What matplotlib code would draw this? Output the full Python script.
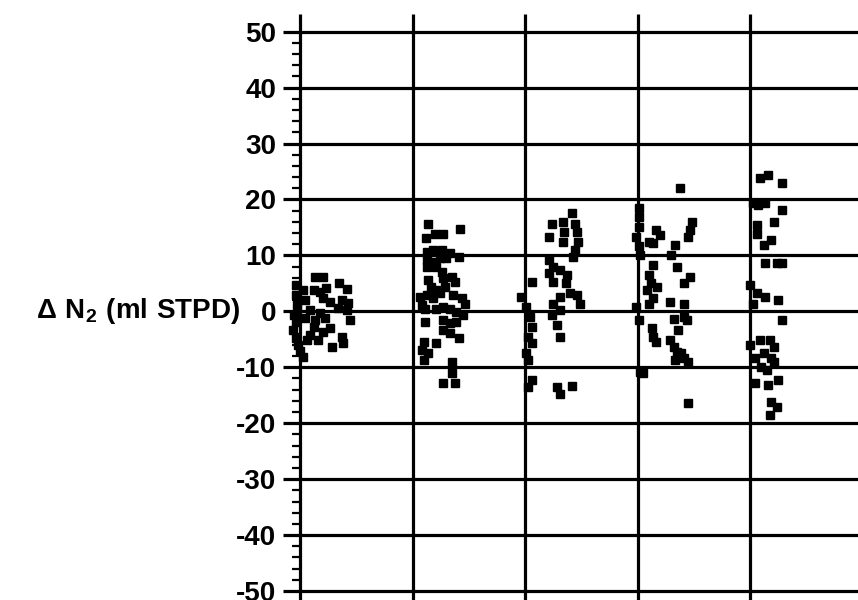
import matplotlib.pyplot as plt
import numpy as np

plt.rcParams['font.family'] = ['Liberation Sans', 'DejaVu Sans']
plt.rcParams['mathtext.fontset'] = 'custom'
plt.rcParams['mathtext.rm'] = 'Liberation Sans:bold'
plt.rcParams['mathtext.default'] = 'rm'
plt.rcParams['axes.unicode_minus'] = False

# nitrogen change per session, five sessions, x is session index + offset
g1_x = [0.13, 0.20, 0.35, 0.42, 0.12, 0.18, 0.20, 0.27, 0.37, 0.43, 0.34, 0.42, 0.44,
        0.27, 0.20, 0.37, 0.38, 0.28, 0.12, 0.06, 0.00, 0.03, -0.04, -0.04, -0.03,
        -0.05, -0.04, -0.06, -0.04, -0.02, 0.04, 0.09, 0.04, 0.13, 0.18, 0.22, 0.09,
        0.16, 0.03, 0.23]
g1_y = [6.1, 6.1, 5.0, 4.0, 3.8, 3.5, 2.4, 1.7, 2.0, 1.5, 0.6, 0.2, -1.5,
        -3.0, -3.7, -4.6, -5.7, -6.4, -2.8, -5.1, -7.0, -8.1, 4.7, 2.9, 1.1,
        -0.7, -1.9, -3.3, -4.8, -6.0, 2.0, 0.2, -1.2, -1.5, -0.3, -1.2, -4.2,
        -5.1, 3.8, 4.1]

g2_x = [1.14, 1.42, 1.12, 1.20, 1.27, 1.13, 1.18, 1.26, 1.33, 1.41, 1.13, 1.18, 1.24,
        1.30, 1.13, 1.21, 1.26, 1.27, 1.35, 1.38, 1.29, 1.14, 1.16, 1.21, 1.07,
        1.13, 1.18, 1.24, 1.36, 1.44, 1.47, 1.08, 1.11, 1.21, 1.27, 1.33, 1.39,
        1.45, 1.11, 1.27, 1.33, 1.39, 1.27, 1.33, 1.41, 1.10, 1.08, 1.21, 1.14,
        1.10, 1.35, 1.35, 1.27, 1.38]
g2_y = [15.6, 14.7, 13.2, 13.8, 13.8, 10.7, 11.0, 11.0, 10.4, 9.8, 9.2, 8.9, 9.5,
        9.5, 8.0, 8.0, 7.1, 5.9, 6.2, 5.3, 4.4, 5.6, 4.4, 3.8, 2.6,
        2.9, 2.3, 3.2, 2.9, 2.3, 1.4, 1.1, 0.5, 0.5, 0.8, 0.5, -0.1,
        -0.7, -1.9, -1.6, -2.1, -1.9, -3.3, -3.9, -4.8, -5.4, -6.9, -5.7, -7.5,
        -8.7, -9.0, -11.1, -12.9, -12.9]

g3_x = [2.42, 2.44, 2.46, 2.47, 2.44, 2.43, 2.34, 2.35, 2.34, 2.24, 2.21, 2.21, 2.25,
        2.21, 2.31, 2.37, 2.36, 2.25, 2.06, 2.40, 2.49, 2.46, 2.31, 2.25, 2.31,
        2.24, 2.28, 2.31, 1.96, 2.01, 2.04, 2.06, 2.03, 2.06, 2.01, 2.03, 2.06,
        2.03, 2.28, 2.31, 2.42]
g3_y = [17.5, 15.7, 14.2, 12.4, 11.0, 9.8, 16.0, 14.2, 12.4, 15.7, 13.3, 9.2, 8.0,
        6.8, 7.4, 6.5, 5.0, 5.3, 5.3, 3.2, 1.4, 2.9, 2.6, 1.4, 0.2,
        -0.7, -2.4, -4.5, 2.6, 0.8, -1.0, -2.8, -4.5, -5.7, -7.5, -8.7, -12.3,
        -13.5, -13.5, -14.7, -13.4]

g4_x = [3.38, 3.01, 3.01, 3.01, 2.99, 3.01, 3.02, 3.16, 3.20, 3.10, 3.14, 3.48, 3.47,
        3.45, 3.33, 3.30, 3.14, 3.35, 3.10, 3.12, 3.17, 3.08, 3.47, 3.41, 3.14,
        3.10, 3.29, 3.41, 3.32, 3.41, 3.44, 3.13, 3.14, 3.16, 3.36, 3.29, 3.32,
        3.35, 3.39, 3.41, 3.33, 3.45, 3.02, 3.05, 3.45, 2.99, 3.01]
g4_y = [22.0, 18.4, 16.9, 15.1, 13.3, 11.6, 10.1, 14.5, 13.6, 12.4, 12.2, 16.0, 14.5,
        13.3, 11.9, 10.1, 8.3, 8.0, 6.5, 5.0, 4.4, 3.8, 6.2, 5.0, 2.3,
        1.4, 1.7, 1.4, -1.3, -1.0, -1.6, -3.0, -4.5, -5.4, -3.3, -5.1, -6.3,
        -7.2, -7.5, -8.4, -8.7, -9.0, -10.8, -11.1, -16.4, 0.8, -1.6]

g5_x = [4.09, 4.16, 4.28, 4.03, 4.07, 4.13, 4.28, 4.06, 4.06, 4.21, 4.19, 4.12, 4.13,
        4.24, 4.28, 4.00, 4.06, 4.13, 4.25, 4.03, 4.28, 4.00, 4.09, 4.18, 4.21,
        4.12, 4.19, 4.04, 4.10, 4.15, 4.21, 4.04, 4.16, 4.25, 4.19, 4.24, 4.18]
g5_y = [23.8, 24.4, 23.0, 19.3, 19.0, 19.3, 18.1, 15.4, 13.9, 16.0, 12.7, 11.9, 8.6,
        8.6, 8.6, 4.7, 3.2, 2.6, 2.1, 1.4, -1.6, -6.0, -5.1, -5.1, -6.3,
        -7.5, -8.4, -8.4, -9.9, -10.5, -9.0, -12.9, -13.2, -12.3, -16.2, -17.1, -18.5]

groups_x = [g1_x, g2_x, g3_x, g4_x, g5_x]
groups_y = [g1_y, g2_y, g3_y, g4_y, g5_y]
sessions = [0, 1, 2, 3, 4]
y_ticks = list(range(-50, 51, 10))

fig = plt.figure(figsize=(8.58, 6), dpi=100)
ax = fig.add_axes([300 / 858, 9 / 600, 558 / 858, 559.3 / 600])
ax.set_xlim(0, 558 / 112.5)
ax.set_ylim(-50, 50)

lw = 2.3
# horizontal grid
ax.hlines(y_ticks, 0, 558 / 112.5, colors='black', linewidth=lw, clip_on=False, zorder=2)
# vertical lines for each session, running a bit past the ends
ax.vlines(sessions, -51.8, 53.2, colors='black', linewidth=lw, clip_on=False, zorder=2)

for gx, gy in zip(groups_x, groups_y):
    ax.plot(gx, gy, linestyle='none', marker='s', markersize=5.2,
            color='black', markeredgewidth=1.0, clip_on=False, zorder=3)

for s in ['top', 'right', 'bottom', 'left']:
    ax.spines[s].set_visible(False)

ax.set_xticks([])
ax.set_yticks(y_ticks)
ax.set_yticks(list(range(-50, 51, 2)), minor=True)
ax.tick_params(axis='y', which='major', length=12, width=lw, direction='out', pad=5,
               labelsize=20)
ax.tick_params(axis='y', which='minor', length=5.5, width=1.6, direction='out')
for lab in ax.get_yticklabels():
    lab.set_fontweight('bold')

fig.text(240 / 858, (600 - 311.3) / 600, r'$\Delta\ N_{2}\ (ml\ STPD)$', ha='right',
         va='center', fontsize=20)

fig.savefig('out.png', dpi=100)
